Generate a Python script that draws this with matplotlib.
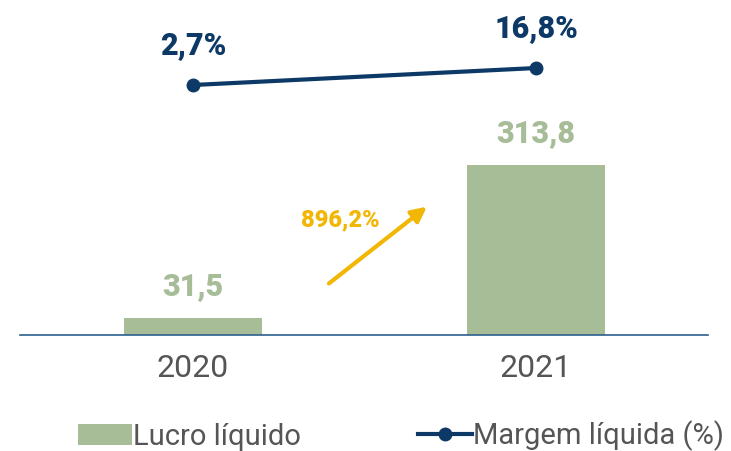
import matplotlib
matplotlib.use("Agg")
import matplotlib.pyplot as plt

years = ["2020", "2021"]
lucro = [31.5, 313.8]
lucro_labels = ["31,5", "313,8"]
margem = [2.7, 16.8]
margem_labels = ["2,7%", "16,8%"]
growth_label = "896,2%"

GREEN = "#A6BD97"
NAVY = "#0D3966"
GOLD = "#F2B705"
GRAY = "#555555"
AXIS = "#2B5F8E"

plt.rcParams['font.family'] = ['Roboto', 'DejaVu Sans']

W, H = 731, 451
fig = plt.figure(figsize=(W / 100, H / 100), dpi=100)
ax = fig.add_axes([20 / W, 116 / H, 688 / W, 335 / H])
x = list(range(len(years)))
bars = ax.bar(x, lucro, width=0.40, color=GREEN, label="Lucro líquido", zorder=2)
ax.set_xlim(-0.504, 1.501)
ax.set_ylim(0, 618.4)
for s in ["top", "right", "left"]:
    ax.spines[s].set_visible(False)
ax.spines["bottom"].set_color(AXIS)
ax.spines["bottom"].set_linewidth(1.2)
ax.set_yticks([])
ax.set_xticks(x)
ax.set_xticklabels(years, fontsize=23, color=GRAY)
ax.tick_params(axis="x", length=0, pad=14)

for xi, v, lab in zip(x, lucro, lucro_labels):
    ax.annotate(lab, (xi, v), xytext=(0, 23), textcoords="offset points",
                ha="center", va="center", fontsize=22, fontweight="heavy", color=GREEN)

ax2 = ax.twinx()
ax2.set_ylim(-204.6, 73.2)
ax2.axis("off")
line, = ax2.plot(x, margem, color=NAVY, lw=3, marker="o", ms=9, label="Margem líquida (%)")
for xi, v, lab in zip(x, margem, margem_labels):
    ax2.annotate(lab, (xi, v), xytext=(0, 29), textcoords="offset points",
                 ha="center", va="center", fontsize=22, fontweight="heavy", color=NAVY)

# growth arrow
ax.annotate("", xy=(0.688, 240), xytext=(0.39, 92),
            arrowprops=dict(arrowstyle="-|>,head_length=0.9,head_width=0.45", color=GOLD, lw=3))
ax.text(0.43, 213, growth_label, ha="center", va="center", fontsize=17,
        fontweight="heavy", color=GOLD)

leg = fig.legend(handles=[bars, line], loc="center left", bbox_to_anchor=(78 / W, 1 - 436 / H),
                 ncol=2, frameon=False, fontsize=21, handlelength=1.85, handletextpad=0.05,
                 columnspacing=4.0, labelcolor=GRAY, borderaxespad=0, borderpad=0)
fig.savefig("out.png", dpi=100)
